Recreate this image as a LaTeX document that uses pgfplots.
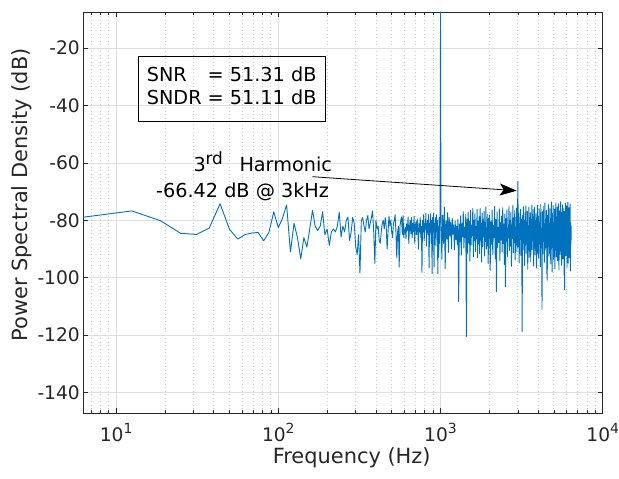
\documentclass[border=0pt]{standalone}
\usepackage{fontspec}
\setmainfont{DejaVu Sans}
\usepackage{pgfplots}
\pgfplotsset{compat=1.18}
\usetikzlibrary{arrows.meta}
\definecolor{mblue}{HTML}{0072BD}
\definecolor{axgray}{HTML}{262626}
\definecolor{gridmaj}{HTML}{DEDEDE}
\definecolor{gridmin}{HTML}{C8C8C8}
\newcommand{\tex}[1]{10\raisebox{8bp}{\fontsize{14}{14}\selectfont #1}}
\begin{document}
\begin{tikzpicture}
\begin{axis}[
  at={(83bp,66bp)}, anchor=south west,
  scale only axis, width=519.7bp, height=401bp,
  xmode=log, xmin=6.25, xmax=10000, ymin=-147.1, ymax=-7.4,
  xtick={10,100,1000,10000},
  xticklabels={\tex{1},\tex{2},\tex{3},\tex{4}},
  minor xtick={7,8,9,20,30,40,50,60,70,80,90,200,300,400,500,600,700,800,900,2000,3000,4000,5000,6000,7000,8000,9000},
  ytick={-140,-120,-100,-80,-60,-40,-20},
  yticklabels={-140,-120,-100,-80,-60,-40,-20},
  tick align=inside,
  major tick length=5.2bp, minor tick length=2.6bp,
  axis line style={axgray, line width=0.8bp},
  every tick/.style={axgray, line width=0.6bp},
  ticklabel style={font=\fontsize{18.7}{20}\selectfont, text=axgray},
  yticklabel style={inner sep=0pt, xshift=-3bp},
  xticklabel style={inner sep=0pt, anchor=north, yshift=-10bp},
  xmajorgrids, ymajorgrids, xminorgrids,
  major grid style={gridmaj, line width=0.8bp},
  minor grid style={gridmin, line width=0.8bp, dash pattern=on 1bp off 2.5bp},
]
\addplot[mblue, line width=0.9bp, line join=round, no markers] table[row sep=newline] {
f v
6.25 -78.9
12.5 -76.7
18.75 -80.1
25 -84.5
31.25 -84.9
37.5 -82.7
43.75 -74.2
50 -83.1
56.25 -86.5
62.5 -84.9
68.75 -84.4
75 -84.2
81.25 -87.1
87.5 -84.2
93.75 -77.0
100 -82.5
106.25 -79.2
112.5 -74.6
118.75 -91.0
125 -81.0
131.25 -86.0
137.5 -93.4
143.75 -86.0
150 -89.3
156.25 -83.0
162.5 -76.5
168.75 -82.0
175 -83.5
181.25 -82.0
187.5 -77.0
193.75 -85.0
200 -83.0
206.25 -88.7
212.5 -84.0
218.75 -83.0
225 -84.0
231.25 -82.0
237.5 -77.1
243.75 -85.8
250 -82.0
256.25 -84.0
262.5 -80.0
268.75 -78.8
275 -87.0
281.25 -84.0
287.5 -79.0
293.75 -81.0
300 -89.0
306.25 -92.0
312.5 -85.0
318.75 -98.4
325 -80.0
331.25 -79.0
337.5 -82.0
343.75 -84.0
350 -80.0
356.25 -78.3
362.5 -83.0
368.75 -81.0
375 -79.0
381.25 -76.7
387.5 -84.0
393.75 -95.0
400 -80.0
406.25 -83.0
412.5 -82.0
418.75 -87.0
425 -88.0
431.25 -84.0
437.5 -81.0
443.75 -80.0
450 -83.0
456.25 -79.0
462.5 -82.0
468.75 -90.0
475 -84.0
481.25 -78.5
487.5 -82.0
493.75 -80.0
500 -84.0
506.25 -86.0
512.5 -81.0
518.75 -80.0
525 -78.0
531.25 -84.0
537.5 -93.0
543.75 -84.0
550 -82.0
556.25 -96.3
562.5 -82.0
568.75 -80.0
575 -78.8
581.25 -85.0
587.5 -78.3
593.75 -86.0
600 -83.5
606.25 -82.3
612.5 -86.4
618.75 -81.2
625 -83.5
631.25 -78.8
637.5 -88.1
643.75 -82.3
650 -80.0
656.25 -84.7
662.5 -79.0
668.75 -86.0
675 -81.0
681.25 -84.0
687.5 -78.5
693.75 -88.0
700 -82.0
706.25 -80.5
712.5 -85.0
718.75 -79.5
725 -83.0
731.25 -90.0
737.5 -81.0
743.75 -84.0
750 -79.0
756.25 -86.0
762.5 -82.0
768.75 -98.2
775 -80.0
781.25 -84.0
787.5 -78.0
793.75 -87.0
800 -81.0
806.25 -83.0
812.5 -77.5
818.75 -89.0
825 -82.0
831.25 -80.0
837.5 -85.0
843.75 -78.0
850 -96.5
856.25 -81.0
862.5 -84.0
868.75 -77.7
875 -88.0
881.25 -80.0
887.5 -98.6
893.75 -79.0
900 -84.0
906.25 -77.5
912.5 -96.3
918.75 -81.0
925 -86.0
931.25 -79.0
937.5 -89.0
943.75 -78.0
950 -84.0
956.25 -80.0
962.5 -98.6
968.75 -82.0
975 -92.8
981.25 -79.0
987.5 -88.0
993.75 -77.0
1000 -7.4
1006.25 -76.0
1018.75 -93.5
1031.25 -78.2
1043.75 -88.0
1056.25 -75.4
1068.75 -96.8
1081.25 -80.1
1093.75 -86.5
1106.25 -77.3
1118.75 -91.2
1131.25 -79.0
1143.75 -85.4
1156.25 -80.6
1168.75 -89.9
1181.25 -79.2
1193.75 -84.8
1206.25 -81.5
1218.75 -90.3
1231.25 -80.2
1243.75 -86.7
1256.25 -82.0
1268.75 -88.4
1281.25 -79.6
1293.75 -108.3
1306.25 -81.2
1318.75 -87.5
1331.25 -78.4
1343.75 -92.1
1356.25 -80.9
1368.75 -85.8
1381.25 -76.9
1393.75 -89.6
1406.25 -82.3
1418.75 -86.1
1431.25 -78.0
1443.75 -120.5
1456.25 -79.5
1468.75 -91.4
1481.25 -77.2
1493.75 -87.9
1506.25 -80.4
1518.75 -94.2
1531.25 -76.5
1543.75 -88.6
1556.25 -81.7
1568.75 -85.3
1581.25 -75.8
1593.75 -92.7
1606.25 -79.9
1618.75 -87.0
1631.25 -77.6
1643.75 -90.8
1656.25 -82.1
1668.75 -86.4
1681.25 -76.2
1693.75 -93.0
1706.25 -80.3
1718.75 -88.2
1731.25 -78.7
1743.75 -91.6
1756.25 -75.9
1768.75 -86.9
1781.25 -81.0
1793.75 -94.5
1806.25 -77.4
1818.75 -89.1
1831.25 -79.8
1843.75 -85.6
1856.25 -76.8
1868.75 -92.4
1881.25 -80.7
1893.75 -87.3
1906.25 -75.3
1918.75 -90.0
1931.25 -82.6
1943.75 -88.8
1956.25 -77.9
1968.75 -95.1
1981.25 -79.3
1993.75 -86.2
2006.25 -78.1
2025 -97.4
2043.75 -80.5
2062.5 -88.3
2081.25 -76.4
2100 -91.9
2118.75 -81.8
2137.5 -86.0
2156.25 -75.1
2175 -93.3
2193.75 -79.7
2212.5 -104.8
2231.25 -77.0
2250 -89.4
2268.75 -82.4
2287.5 -87.7
2306.25 -76.0
2325 -94.0
2343.75 -80.8
2362.5 -86.8
2381.25 -78.5
2400 -91.0
2418.75 -75.6
2437.5 -88.1
2456.25 -81.3
2475 -95.4
2493.75 -77.8
2512.5 -103.2
2531.25 -79.4
2550 -87.4
2568.75 -76.3
2587.5 -92.6
2606.25 -82.8
2625 -85.9
2643.75 -75.0
2662.5 -90.5
2681.25 -80.0
2700 -88.9
2718.75 -77.1
2737.5 -96.0
2756.25 -81.6
2775 -86.3
2793.75 -74.8
2812.5 -91.3
2831.25 -79.1
2850 -87.8
2868.75 -76.6
2887.5 -93.8
2906.25 -82.2
2925 -88.5
2943.75 -75.7
2962.5 -90.9
2981.25 -80.2
3000 -66.42
3018.75 -89.2
3037.5 -77.5
3056.25 -94.8
3075 -81.1
3093.75 -86.6
3112.5 -76.1
3131.25 -92.2
3150 -79.6
3168.75 -88.0
3187.5 -118.7
3206.25 -78.3
3225 -90.4
3243.75 -75.2
3262.5 -87.1
3281.25 -81.9
3300 -95.7
3318.75 -77.4
3337.5 -88.7
3356.25 -74.9
3375 -91.5
3393.75 -80.6
3412.5 -86.5
3431.25 -76.8
3450 -97.0
3468.75 -82.5
3487.5 -89.0
3506.25 -75.4
3525 -92.9
3543.75 -79.0
3562.5 -87.6
3581.25 -77.3
3600 -94.3
3618.75 -81.4
3637.5 -88.4
3656.25 -74.6
3675 -90.2
3693.75 -80.1
3712.5 -86.9
3731.25 -76.2
3750 -95.9
3768.75 -78.8
3787.5 -89.7
3806.25 -75.5
3825 -92.0
3843.75 -82.0
3862.5 -87.2
3881.25 -77.7
3900 -96.6
3918.75 -79.9
3937.5 -88.6
3956.25 -74.7
3975 -91.8
3993.75 -81.5
4000 -78.6
4025 -93.1
4050 -75.8
4075 -88.2
4100 -80.7
4125 -96.2
4150 -74.4
4175 -89.5
4200 -82.7
4225 -110.9
4250 -77.0
4275 -91.7
4300 -75.1
4325 -87.3
4350 -81.2
4375 -94.6
4400 -73.9
4425 -90.3
4450 -79.5
4475 -86.1
4500 -76.4
4525 -97.8
4550 -100.8
4575 -78.2
4600 -88.8
4625 -74.5
4650 -92.5
4675 -80.9
4700 -87.0
4725 -75.9
4750 -95.2
4775 -79.3
4800 -89.9
4825 -73.6
4850 -91.1
4875 -98.0
4900 -77.6
4925 -86.7
4950 -74.9
4975 -93.6
5000 -81.8
5025 -88.1
5050 -76.0
5075 -96.9
5100 -78.9
5125 -87.5
5150 -73.8
5175 -92.8
5200 -80.4
5225 -90.6
5250 -75.3
5275 -94.1
5300 -79.7
5325 -86.4
5350 -74.2
5375 -97.3
5400 -82.1
5425 -89.3
5450 -76.7
5475 -91.9
5500 -73.5
5525 -88.4
5550 -80.0
5575 -95.6
5600 -77.2
5625 -87.8
5650 -74.6
5675 -93.4
5700 -81.5
5725 -89.6
5750 -75.7
5775 -99.1
5800 -78.4
5825 -104.2
5850 -76.9
5875 -90.7
5900 -74.0
5925 -92.3
5950 -80.6
5975 -87.1
6000 -75.0
6025 -96.4
6050 -79.1
6075 -88.9
6100 -73.7
6125 -94.9
6150 -81.3
6175 -86.8
6200 -75.6
6225 -93.0
6250 -78.0
6275 -90.1
6300 -74.3
6325 -97.6
6350 -80.8
6375 -88.0
6400 -82.0
};
\end{axis}
% axis labels
\node[anchor=base, inner sep=0pt, text=axgray, font=\fontsize{21}{21}\selectfont] at (351.7bp,15.5bp) {Frequency (Hz)};
\node[anchor=base, rotate=90, inner sep=0pt, text=axgray, font=\fontsize{21}{21}\selectfont] at (27bp,284bp) {Power Spectral Density (dB)};
% SNR box
\draw[black, line width=0.9bp] (138.3bp,357.3bp) rectangle (325bp,423bp);
\begin{scope}[every node/.style={anchor=base west, inner sep=0pt, font=\fontsize{19.3}{20}\selectfont}]
\node at (146.7bp,397.3bp) {SNR};
\node at (207.5bp,397.3bp) {= 51.31 dB};
\node at (146.7bp,374bp) {SNDR};
\node at (207.5bp,374bp) {= 51.11 dB};
% annotation
\node at (193.3bp,307.3bp) {3};
\node[font=\fontsize{17}{17}\selectfont] at (205.3bp,314.5bp) {rd};
\node at (239.3bp,307.3bp) {Harmonic};
\node at (156bp,281.7bp) {-66.42 dB @ 3kHz};
\end{scope}
\draw[black, line width=0.8bp, -{Stealth[length=17bp,width=12bp,inset=4bp]}] (312.3bp,302.3bp) -- (516.7bp,288.3bp);
\pgfresetboundingbox
\path (0,0) rectangle (619bp,479bp);
\end{tikzpicture}
\end{document}
